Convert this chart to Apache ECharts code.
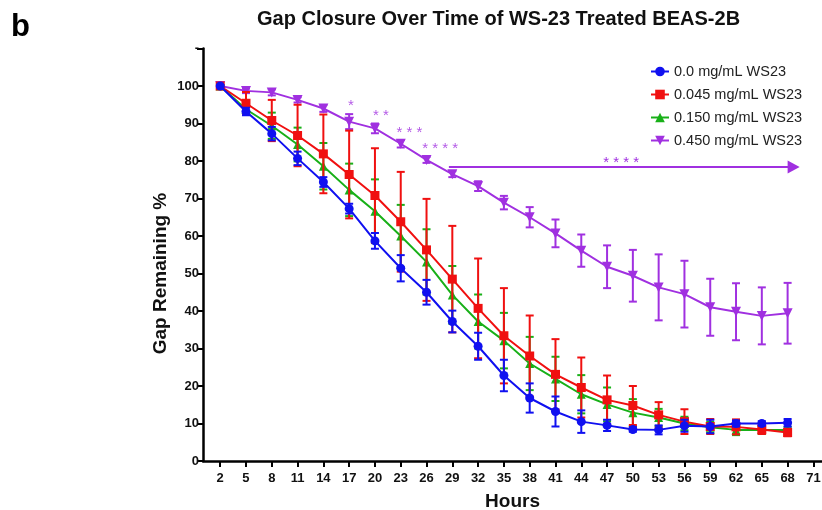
<!DOCTYPE html>
<html>
<head>
<meta charset="utf-8">
<script src="https://cdn.jsdelivr.net/npm/echarts@6/dist/echarts.min.js"></script>
<style>html,body{margin:0;padding:0;background:#fff;}#chart{width:822px;height:510px;}</style>
</head>
<body>
<div id="chart"></div>
<script>
// ---- data ----
const hours = [2,5,8,11,14,17,20,23,26,29,32,35,38,41,44,47,50,53,56,59,62,65,68];
const xTickLabels = [2,5,8,11,14,17,20,23,26,29,32,35,38,41,44,47,50,53,56,59,62,65,68,71];
const seriesNames = ['0.0 mg/mL WS23','0.045 mg/mL WS23','0.150 mg/mL WS23','0.450 mg/mL WS23'];
const ws0   = [100,93.2,87.3,80.7,74.4,67.3,58.7,51.4,45.0,37.2,30.6,22.8,16.8,13.2,10.5,9.5,8.4,8.3,9.4,9.2,10.0,10.0,10.2];
const ws0Err= [0.3,1.0,1.8,1.8,1.3,1.3,2.1,3.5,3.3,2.9,3.6,4.2,3.9,4.0,3.0,1.5,0.6,1.2,1.6,1.8,0.8,0.6,1.0];
const ws045   = [100,95.4,90.8,86.8,81.9,76.4,70.8,63.8,56.3,48.5,40.7,33.4,28.0,23.1,19.6,16.3,14.8,12.3,10.5,9.2,9.1,8.4,7.6];
const ws045Err= [0.3,3.0,5.5,8.2,10.5,11.7,12.6,13.3,13.6,14.2,13.3,12.7,10.8,9.4,8.0,6.5,5.2,3.4,3.3,2.0,2.0,1.2,1.0];
const ws150   = [100,93.8,89.4,84.4,78.6,72.3,66.6,60.0,53.1,44.3,37.2,32.1,26.0,21.9,17.8,15.1,12.9,11.6,10.0,9.0,8.3,8.3,8.3];
const ws150Err= [0.3,1.2,3.5,4.5,6.2,7.0,8.5,8.3,8.7,7.7,7.2,7.4,7.1,5.9,5.1,4.5,3.6,2.3,1.8,1.5,1.4,1.0,0.8];
const ws450   = [100,98.7,98.3,96.3,94.0,90.5,88.7,84.6,80.3,76.5,73.3,68.9,65.0,60.7,56.1,51.8,49.4,46.3,44.5,41.0,39.8,38.7,39.4];
const ws450Err= [0.3,0.6,0.8,0.7,0.9,2.0,1.3,1.0,0.8,0.8,1.3,1.8,2.7,3.7,4.3,5.7,6.9,8.8,8.9,7.6,7.6,7.6,8.1];
// significance annotations
const sigHours  = [17.2, 20.7, 24.0, 27.6];
const sigValues = [94.6, 92.0, 87.4, 83.2];
const sigLabels = ['*', '* *', '* * *', '* * * *'];
const arrowStart = [28.6, 78.4];
const arrowEnd   = [68.7, 78.4];
const arrowLabel = '* * * *';

const FONT = "'Liberation Sans', Arial, Helvetica, sans-serif";
const colors = ['#1010f0', '#f01010', '#18b018', '#a030e0'];
const symbols = ['circle', 'rect', 'triangle', 'triangle'];
const symRot = [0, 0, 0, 180];
const symSizes = [9, 9, 9, 10];
const vals = [ws0, ws045, ws150, ws450];
const errs = [ws0Err, ws045Err, ws150Err, ws450Err];
const zs = [6, 5, 3, 4];

function errRender(color) {
  return function (params, api) {
    const x = api.value(0), lo = api.value(1), hi = api.value(2);
    const p1 = api.coord([x, hi]);
    const p2 = api.coord([x, lo]);
    const w = 4;
    const st = { stroke: color, lineWidth: 2 };
    return {
      type: 'group',
      children: [
        { type: 'line', shape: { x1: p1[0], y1: p1[1], x2: p2[0], y2: p2[1] }, style: st },
        { type: 'line', shape: { x1: p1[0] - w, y1: p1[1], x2: p1[0] + w, y2: p1[1] }, style: st },
        { type: 'line', shape: { x1: p2[0] - w, y1: p2[1], x2: p2[0] + w, y2: p2[1] }, style: st }
      ]
    };
  };
}

const series = [];
for (let k = 0; k < 4; k++) {
  series.push({
    name: seriesNames[k] + ' err',
    type: 'custom',
    renderItem: errRender(colors[k]),
    encode: { x: 0, y: [1, 2] },
    data: hours.map((h, i) => [h, vals[k][i] - errs[k][i], vals[k][i] + errs[k][i]]),
    z: zs[k],
    silent: true
  });
  const s = {
    name: seriesNames[k],
    type: 'line',
    data: hours.map((h, i) => [h, vals[k][i]]),
    symbol: symbols[k],
    symbolRotate: symRot[k],
    symbolSize: symSizes[k],
    showAllSymbol: true,
    itemStyle: { color: colors[k] },
    lineStyle: { color: colors[k], width: 2 },
    z: zs[k],
    animation: false
  };
  if (k === 3) {
    s.markLine = {
      silent: true,
      symbol: ['none', 'triangle'],
      symbolSize: [13, 12],
      lineStyle: { color: colors[3], width: 2, type: 'solid' },
      label: { show: true, position: 'middle', formatter: arrowLabel, color: colors[3], fontSize: 15, fontFamily: FONT, distance: -3 },
      data: [[{ coord: arrowStart }, { coord: arrowEnd }]]
    };
  }
  series.push(s);
}
series.push({
  name: 'sig',
  type: 'scatter',
  symbolSize: 0,
  data: sigHours.map((h, i) => [h, sigValues[i]]),
  label: {
    show: true, position: 'inside',
    formatter: p => sigLabels[p.dataIndex],
    color: colors[3], fontSize: 15, fontFamily: FONT
  },
  z: 10
});

const chart = echarts.init(document.getElementById('chart'), null, { renderer: 'canvas' });
chart.setOption({
  animation: false,
  backgroundColor: '#fff',
  textStyle: { fontFamily: FONT },
  title: {
    text: 'Gap Closure Over Time of WS-23 Treated BEAS-2B',
    left: 252, top: 4,
    textStyle: { fontFamily: FONT, fontWeight: 'bold', fontSize: 20, color: '#111' }
  },
  graphic: [
    { type: 'text', left: 11, top: 12, style: { text: 'b', font: "bold 31px " + FONT, fill: '#000' } },
    { type: 'text', x: 161, y: 273.5, rotation: Math.PI / 2,
      style: { text: 'Gap Remaining %', font: "bold 19px " + FONT, fill: '#111', align: 'center', verticalAlign: 'middle' } }
  ],
  legend: {
    data: seriesNames,
    orient: 'vertical',
    left: 645, top: 59,
    itemWidth: 18, itemHeight: 12, itemGap: 8,
    textStyle: { fontFamily: FONT, fontSize: 14.5, color: '#222' }
  },
  grid: { left: 203, right: 0, top: 48.5, bottom: 49, containLabel: false, outerBoundsMode: 'none' },
  xAxis: {
    type: 'value', min: 0, max: 72,
    name: 'Hours', nameLocation: 'middle', nameGap: 31,
    nameTextStyle: { fontFamily: FONT, fontWeight: 'bold', fontSize: 19, color: '#111' },
    axisLine: { lineStyle: { color: '#000', width: 2.5 } },
    axisTick: { show: true, customValues: xTickLabels, length: 6, lineStyle: { color: '#000', width: 2 } },
    axisLabel: { customValues: xTickLabels, margin: 11, fontFamily: FONT, fontWeight: 'bold', fontSize: 13, color: '#111' },
    splitLine: { show: false }
  },
  yAxis: {
    type: 'value', min: 0, max: 110, interval: 10,
    axisLine: { show: true, lineStyle: { color: '#000', width: 2.5 } },
    axisTick: { show: true, length: 6, lineStyle: { color: '#000', width: 2 } },
    axisLabel: { margin: 4, fontFamily: FONT, fontWeight: 'bold', fontSize: 13, color: '#111',
      formatter: v => (v === 110 ? '-' : String(v)) },
    splitLine: { show: false }
  },
  series: series
});
</script>
</body>
</html>
